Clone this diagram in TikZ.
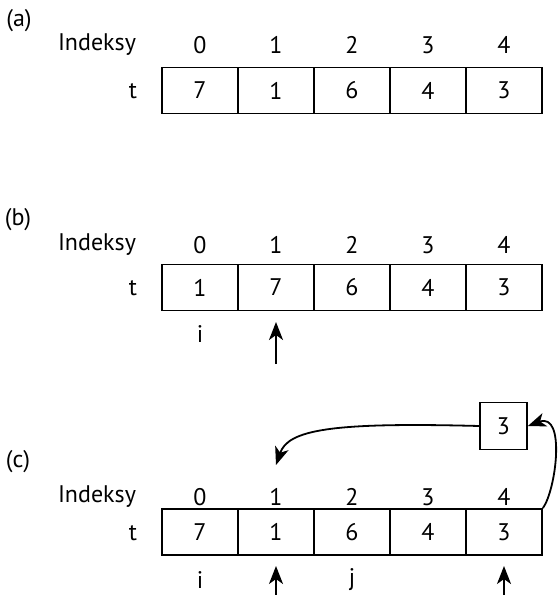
\documentclass[tikz,border=0pt]{standalone}
\usepackage{fontspec}
\setmainfont{PT Sans}
\usetikzlibrary{arrows.meta}
\begin{document}
\begin{tikzpicture}[x=1pt,y=-1pt,
  every node/.style={font=\fontsize{24}{28}\selectfont, inner sep=0pt},
  cell/.style={draw, line width=1.8pt, minimum width=76pt, minimum height=46pt},
  arr/.style={line width=1.8pt, -{Stealth[length=18pt,width=14pt,inset=5pt]}}]
\useasboundingbox (0,0) rectangle (558,595);
% ---------- (a)
\node (la) at (19,21) {(a)};
\node (ia) at (97,45) {Indeksy};
\node (ta) at (133,91) {t};
\foreach \i/\v in {0/7,1/1,2/6,3/4,4/3}{
  \node[cell] (a\i) at (200+76*\i,90.5) {\v};
  \node (ax\i) at (200+76*\i,45) {\i};
}
% ---------- (b)
\node (lb) at (18,220) {(b)};
\node (ib) at (97,245) {Indeksy};
\node (tb) at (133,288) {t};
\foreach \i/\v in {0/1,1/7,2/6,3/4,4/3}{
  \node[cell] (b\i) at (200+76*\i,287.5) {\v};
  \node (bx\i) at (200+76*\i,245) {\i};
}
\node (bi) at (200,334) {i};
\coordinate (bt) at (276,364);
\coordinate (bh) at (276,322);
\draw[arr] (bt) -- (bh);
% ---------- (c)
\node (lc) at (18,462) {(c)};
\node (ic) at (97,497) {Indeksy};
\node (tc) at (133,533) {t};
\foreach \i/\v in {0/7,1/1,2/6,3/4,4/3}{
  \node[cell] (c\i) at (200+76*\i,532) {\v};
  \node (cx\i) at (200+76*\i,497) {\i};
}
\node (ci) at (200,580) {i};
\node (cj) at (352,580) {j};
\coordinate (ct1) at (276,595);
\coordinate (ch1) at (276,566);
\coordinate (ct2) at (504,595);
\coordinate (ch2) at (504,566);
\draw[arr] (ct1) -- (ch1);
\draw[arr] (ct2) -- (ch2);
\node[cell, minimum width=47pt, minimum height=47pt] (tmp) at (503.5,426) {3};
\coordinate (dst) at (276,465);
\draw[arr] (tmp.west) .. controls (330,422) and (288,430) .. (dst);
\draw[arr] (c4.north east) .. controls (556,490) and (566,412) .. (tmp.east);
\end{tikzpicture}
\end{document}
